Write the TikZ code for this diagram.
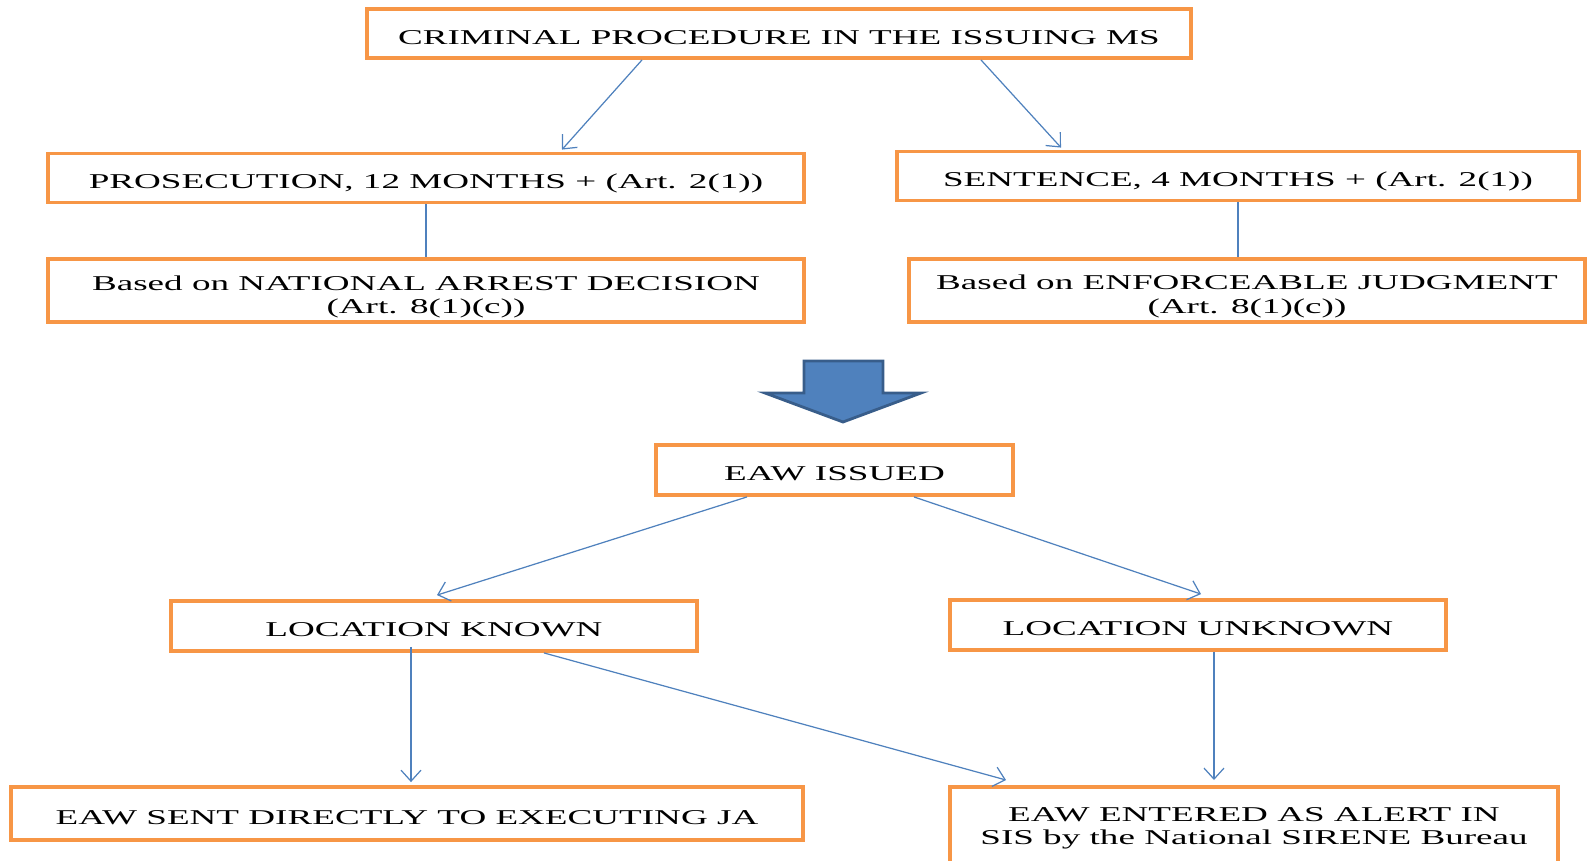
\documentclass[tikz,border=0pt]{standalone}
\usepackage{fontspec}
\setmainfont{Liberation Serif}[FakeStretch=1.76]
\usetikzlibrary{positioning, calc, arrows.meta}

\definecolor{boxorange}{HTML}{F79646}
\definecolor{linkblue}{HTML}{4F81BD}
\definecolor{arrowedge}{HTML}{385D8A}

\begin{document}
\begin{tikzpicture}[
        x=0.02cm, y=-0.02cm,
        every node/.style={draw=boxorange, line width=2.2pt, fill=white, align=center,
            font=\fontsize{12}{13.4}\selectfont, inner sep=0pt},
        stage/.style={minimum height=0.98cm, text height=12.5pt, text depth=0pt},
        basis/.style={minimum height=1.26cm, text height=28.4pt},
        link/.style={draw=linkblue, line width=0.7pt, -{Straight Barb[length=2.2mm, width=4mm, line width=0.7pt]}},
        plain/.style={draw=linkblue, line width=0.7pt}
    ]

    \useasboundingbox (0,0) rectangle (1587,860);

    % Top
    \node[stage, minimum width=16.48cm] (proc) at (779,33.5) {CRIMINAL PROCEDURE IN THE ISSUING MS};

    % Level 1: prosecution / sentence
    \node[stage, minimum width=15.12cm] (pros) at (426,178) {PROSECUTION, 12 MONTHS + (Art. 2(1))};
    \node[stage, minimum width=13.64cm] (sent) at (1238,176) {SENTENCE, 4 MONTHS + (Art. 2(1))};

    % Level 2: basis
    \node[basis, minimum width=15.12cm, below=1.06cm of pros] (natl) {Based on NATIONAL ARREST DECISION\\(Art. 8(1)(c))};
    \node[basis, minimum width=13.52cm] (enf) at (1247,290.5) {Based on ENFORCEABLE JUDGMENT\\(Art. 8(1)(c))};

    % Edges
    \draw[link] ($(proc.south)+(-137,0)$) -- ($(pros.north)+(136,-2)$);
    \draw[link] ($(proc.south)+(202,0)$) -- ($(sent.north)+(-177,-2)$);
    \draw[plain] (pros.south) -- (natl.north);
    \draw[plain] (sent.south) -- (sent.south |- enf.north);

    % Block arrow
    \draw[fill=linkblue, draw=arrowedge, line width=1.6pt, line join=miter]
        (804,361) -- (883,361) -- (883,393) -- (921,393) -- (843,422)
        -- (765,393) -- (804,393) -- cycle;

    % EAW
    \node[stage, minimum width=7.14cm, minimum height=1cm] (eaw) at (834.5,470) {EAW ISSUED};

    \node[stage, minimum width=10.52cm, minimum height=1cm] (known) at (434,626) {LOCATION KNOWN};
    \node[stage, minimum width=9.92cm, minimum height=1cm] (unknown) at (1198,625) {LOCATION UNKNOWN};

    \node[stage, minimum width=15.84cm, minimum height=1.06cm] (direct) at (407,813.5) {EAW SENT DIRECTLY TO EXECUTING JA};
    \node[minimum width=12.16cm, minimum height=1.66cm, anchor=north] (sis) at (1254,785)
        {EAW ENTERED AS ALERT IN\\SIS by the National SIRENE Bureau};

    \draw[link] ($(eaw.south)+(-87.5,0)$) -- ($(known.north)+(3,-4)$);
    \draw[link] ($(eaw.south)+(79.5,0)$) -- ($(unknown.north)+(3,-4)$);
    \draw[link] ($(known.south)+(-23,-6)$) -- ($(direct.north)+(4,-3)$);
    \draw[link] ($(known.south)+(110,0)$) -- ($(sis.north)+(-248,-5)$);
    \draw[link] ($(unknown.south)+(16,0)$) -- ($(sis.north)+(-40,-5)$);

\end{tikzpicture}
\end{document}
